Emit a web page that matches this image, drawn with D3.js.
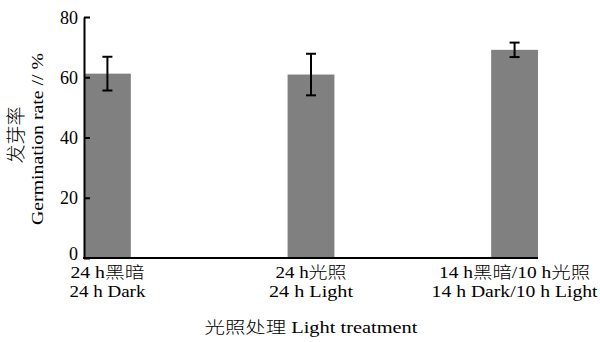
<!DOCTYPE html>
<html>
<head>
<meta charset="utf-8">
<script src="https://cdn.jsdelivr.net/npm/d3@7"></script>
<style>
  body { margin: 0; background: #fff; }
  text { font-family: "Liberation Serif", "Noto Sans CJK SC", serif; fill: #000; font-weight: 300; }
</style>
</head>
<body>
<div id="chart"></div>
<script>
// data
const categories = ["dark", "light", "mixed"];
const labelsZh = ["24 h黑暗", "24 h光照", "14 h黑暗/10 h光照"];
const labelsEn = ["24 h Dark", "24 h Light", "14 h Dark/10 h Light"];
const means = [61.2, 60.9, 69.1];
const errors = [5.6, 6.9, 2.4];
const yTicks = [0, 20, 40, 60, 80];

const width = 600, height = 342;

const svg = d3.select("#chart").append("svg")
    .attr("width", width)
    .attr("height", height);

const x = d3.scaleBand()
    .domain(categories)
    .range([84, 538])
    .paddingInner(0.77)
    .paddingOuter(0);

const y = d3.scaleLinear()
    .domain([0, 80])
    .range([258, 17]);

// bars
svg.selectAll(".bar")
    .data(means)
    .enter().append("rect")
    .attr("class", "bar")
    .attr("x", (d, i) => x(categories[i]))
    .attr("y", d => y(d))
    .attr("width", x.bandwidth())
    .attr("height", d => y(0) - y(d))
    .attr("fill", "#808080");

// error bars
const err = svg.selectAll(".err")
    .data(means)
    .enter().append("g")
    .attr("class", "err")
    .attr("stroke", "#000")
    .attr("stroke-width", 2);

const cx = (i) => x(categories[i]) + x.bandwidth() / 2;

err.append("line")
    .attr("x1", (d, i) => cx(i))
    .attr("x2", (d, i) => cx(i))
    .attr("y1", (d, i) => y(d + errors[i]))
    .attr("y2", (d, i) => y(d - errors[i]));
err.append("line")
    .attr("x1", (d, i) => cx(i) - 5)
    .attr("x2", (d, i) => cx(i) + 5)
    .attr("y1", (d, i) => y(d + errors[i]))
    .attr("y2", (d, i) => y(d + errors[i]));
err.append("line")
    .attr("x1", (d, i) => cx(i) - 5)
    .attr("x2", (d, i) => cx(i) + 5)
    .attr("y1", (d, i) => y(d - errors[i]))
    .attr("y2", (d, i) => y(d - errors[i]));

// y axis, ticks pointing inward
const yAxis = svg.append("g")
    .attr("transform", "translate(84,0)")
    .call(d3.axisLeft(y).tickValues(yTicks).tickSize(-6).tickSizeOuter(0).tickPadding(6));
yAxis.select(".domain").attr("stroke", "#000").attr("stroke-width", 2);
yAxis.selectAll(".tick line").attr("stroke", "#000").attr("stroke-width", 2);
yAxis.selectAll(".tick text")
    .style("font-family", "'Liberation Serif', serif")
    .style("font-size", "18px")
    .attr("dy", d => d === 0 ? "0.1em" : "0.34em");

// x axis line
svg.append("line")
    .attr("x1", x.range()[0] - 1)
    .attr("x2", x.range()[1])
    .attr("y1", y(0))
    .attr("y2", y(0))
    .attr("stroke", "#000")
    .attr("stroke-width", 2);

// category labels
const zhW = [74, 71, 151];
const enW = [76, 84, 166];
svg.selectAll(".lab1")
    .data(labelsZh)
    .enter().append("text")
    .attr("class", "lab1")
    .attr("x", (d, i) => cx(i))
    .attr("y", 278)
    .attr("text-anchor", "middle")
    .attr("textLength", (d, i) => zhW[i])
    .attr("lengthAdjust", "spacingAndGlyphs")
    .style("font-size", "16px")
    .text(d => d);
svg.selectAll(".lab2")
    .data(labelsEn)
    .enter().append("text")
    .attr("class", "lab2")
    .attr("x", (d, i) => cx(i))
    .attr("y", 297)
    .attr("text-anchor", "middle")
    .attr("textLength", (d, i) => enW[i])
    .attr("lengthAdjust", "spacingAndGlyphs")
    .style("font-size", "16px")
    .text(d => d);

// x title
svg.append("text")
    .attr("x", 311)
    .attr("y", 333)
    .attr("text-anchor", "middle")
    .attr("textLength", 213)
    .attr("lengthAdjust", "spacingAndGlyphs")
    .style("font-size", "16px")
    .text("光照处理 Light treatment");

// y title, two lines
svg.append("text")
    .attr("transform", "translate(23,135) rotate(-90)")
    .attr("text-anchor", "middle")
    .style("font-size", "19px")
    .text("发芽率");
svg.append("text")
    .attr("transform", "translate(43,139) rotate(-90)")
    .attr("text-anchor", "middle")
    .attr("textLength", 172)
    .attr("lengthAdjust", "spacingAndGlyphs")
    .style("font-size", "17px")
    .text("Germination rate // %");
</script>
</body>
</html>
